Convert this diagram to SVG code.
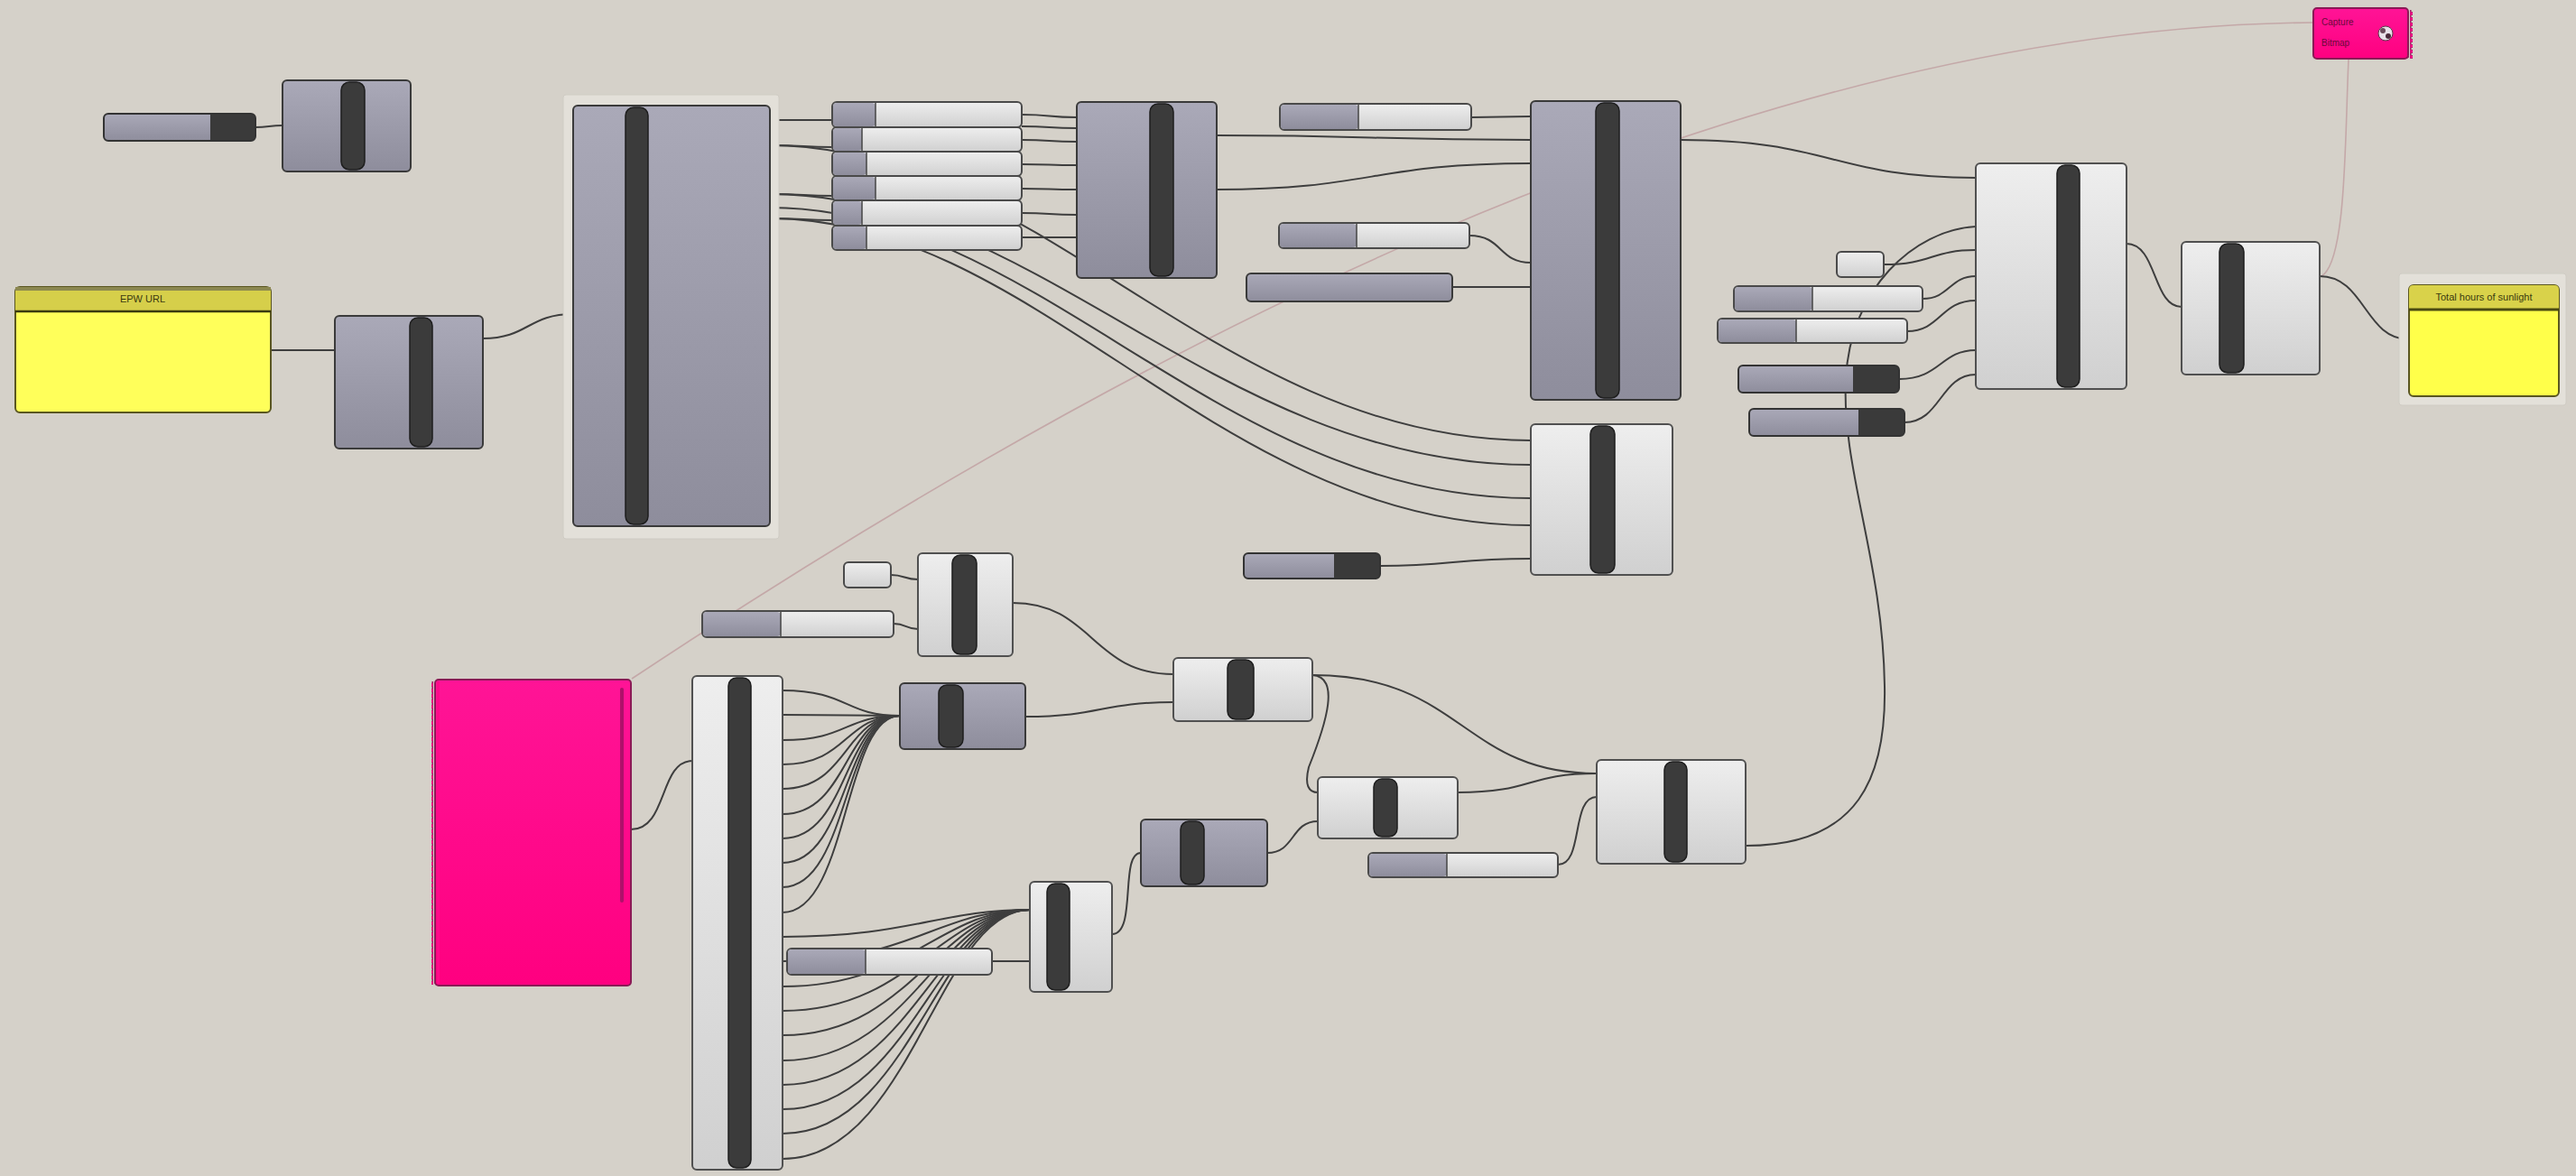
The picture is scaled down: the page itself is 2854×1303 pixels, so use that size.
<svg xmlns="http://www.w3.org/2000/svg" width="2854" height="1303" viewBox="0 0 2854 1303">
<defs>
<linearGradient id="gGray" x1="0" y1="0" x2="0" y2="1"><stop offset="0" stop-color="#aaa9b8"/><stop offset="1" stop-color="#8e8d9c"/></linearGradient>
<linearGradient id="gLight" x1="0" y1="0" x2="0" y2="1"><stop offset="0" stop-color="#eeeeee"/><stop offset="1" stop-color="#d0d0d0"/></linearGradient>
<linearGradient id="gPink" x1="0" y1="0" x2="0" y2="1"><stop offset="0" stop-color="#ff1496"/><stop offset="1" stop-color="#ff0080"/></linearGradient>
<pattern id="zigL" x="0" y="0" width="6" height="6" patternUnits="userSpaceOnUse"><path d="M6,0 L1,3 L6,6 Z" fill="#ff0a8a" stroke="#8a1a55" stroke-width="0.8"/></pattern>
<pattern id="zigR" x="0" y="0" width="6" height="6" patternUnits="userSpaceOnUse"><path d="M0,0 L5,3 L0,6 Z" fill="#ff0a8a" stroke="#8a1a55" stroke-width="0.8"/></pattern>
</defs>
<style>
.wire{fill:none;stroke:#3e3e3e;stroke-width:2}
.pwire{fill:none;stroke:#c4a8a8;stroke-width:1.6}
.gn{fill:url(#gGray);stroke:#3a3a3a;stroke-width:2}
.ln{fill:url(#gLight);stroke:#505050;stroke-width:2}
.bar{fill:#3b3b3b;stroke:#1e1e1e;stroke-width:1.5}
.sl{fill:url(#gLight);stroke:#4a4a4a;stroke-width:2}
.sg{fill:url(#gGray)}
.sd{fill:#3a3a3a}
.frame{fill:#e3e0d9;stroke:#cfccc4;stroke-width:1}
.ptxt{font-family:"Liberation Sans",Arial,sans-serif;font-size:11px;fill:#3a3a10;text-anchor:middle}
.pk{font-family:"Liberation Sans",Arial,sans-serif;font-size:10px;fill:#6a0a3a}
</style>
<rect x="0" y="0" width="2854" height="1303" fill="#d5d1c9"/>

<g id="connectors">
<path class="pwire" d="M700,752 C1200,420 1900,30 2563,25"/>
<path class="pwire" d="M2572,306 C2600,290 2598,150 2602,66"/>
<path class="wire" d="M283,141 C298,141 298,139 313,139"/>
<path class="wire" d="M300,388 L371,388"/>
<path class="wire" d="M535,375 C585,375 585,348 635,348"/>
<path class="wire" d="M853,133 C890,133 890,133 922,133"/>
<path class="wire" d="M853,161 C890,161 890,163 922,163"/>
<path class="wire" d="M853,215 C890,215 890,217 922,217"/>
<path class="wire" d="M853,242 C890,242 890,244 922,244"/>
<path class="wire" d="M853,161 C1150,161 1350,488 1696,488"/>
<path class="wire" d="M853,215 C1150,215 1350,515 1696,515"/>
<path class="wire" d="M853,230 C1150,230 1350,552 1696,552"/>
<path class="wire" d="M853,242 C1150,242 1350,582 1696,582"/>
<path class="wire" d="M1132,127 C1165,127 1160,130 1193,130"/>
<path class="wire" d="M1132,140 C1165,140 1160,142 1193,142"/>
<path class="wire" d="M1132,155 C1165,155 1160,157 1193,157"/>
<path class="wire" d="M1132,182 C1165,182 1160,183 1193,183"/>
<path class="wire" d="M1132,209 C1165,209 1160,210 1193,210"/>
<path class="wire" d="M1132,236 C1165,236 1160,238 1193,238"/>
<path class="wire" d="M1132,263 L1193,263"/>
<path class="wire" d="M1348,150 C1520,150 1520,155 1696,155"/>
<path class="wire" d="M1348,210 C1520,210 1520,181 1696,181"/>
<path class="wire" d="M1630,130 C1665,130 1660,129 1696,129"/>
<path class="wire" d="M1628,261 C1665,261 1660,291 1696,291"/>
<path class="wire" d="M1609,318 L1696,318"/>
<path class="wire" d="M1529,627 C1610,627 1610,619 1696,619"/>
<path class="wire" d="M1862,155 C2030,155 2030,197 2189,197"/>
<path class="wire" d="M2087,293 C2140,293 2140,277 2189,277"/>
<path class="wire" d="M2130,331 C2160,331 2160,306 2189,306"/>
<path class="wire" d="M2113,367 C2150,367 2150,333 2189,333"/>
<path class="wire" d="M2104,420 C2150,420 2150,388 2189,388"/>
<path class="wire" d="M2110,468 C2150,468 2150,415 2189,415"/>
<path class="wire" d="M1935,937 C2060,937 2090,860 2088,760 C2086,620 2040,520 2045,420 C2050,320 2120,255 2189,251"/>
<path class="wire" d="M2356,270 C2390,270 2385,340 2417,340"/>
<path class="wire" d="M2570,306 C2620,306 2620,376 2669,376"/>
<path class="wire" d="M699,919 C740,919 730,843 767,843"/>
<path class="wire" d="M867,765 C940,765 935,793 997,793"/>
<path class="wire" d="M867,792 C940,792 935,793 997,793"/>
<path class="wire" d="M867,820 C940,820 935,793 997,793"/>
<path class="wire" d="M867,847 C940,847 935,793 997,793"/>
<path class="wire" d="M867,874 C940,874 935,793 997,793"/>
<path class="wire" d="M867,902 C940,902 935,793 997,793"/>
<path class="wire" d="M867,929 C940,929 935,793 997,793"/>
<path class="wire" d="M867,956 C940,956 935,793 997,793"/>
<path class="wire" d="M867,983 C940,983 935,793 997,793"/>
<path class="wire" d="M867,1011 C940,1011 935,793 997,793"/>
<path class="wire" d="M867,1038 C1010,1038 1040,1008 1141,1008"/>
<path class="wire" d="M867,1065 C1010,1065 1040,1008 1141,1008"/>
<path class="wire" d="M867,1093 C1010,1093 1040,1008 1141,1008"/>
<path class="wire" d="M867,1120 C1010,1120 1040,1008 1141,1008"/>
<path class="wire" d="M867,1147 C1010,1147 1040,1008 1141,1008"/>
<path class="wire" d="M867,1175 C1010,1175 1040,1008 1141,1008"/>
<path class="wire" d="M867,1202 C1010,1202 1040,1008 1141,1008"/>
<path class="wire" d="M867,1229 C1010,1229 1040,1008 1141,1008"/>
<path class="wire" d="M867,1256 C1010,1256 1040,1008 1141,1008"/>
<path class="wire" d="M867,1284 C1010,1284 1040,1008 1141,1008"/>
<path class="wire" d="M987,637 C1002,637 1002,642 1017,642"/>
<path class="wire" d="M990,691 C1004,691 1004,697 1017,697"/>
<path class="wire" d="M1122,668 C1210,668 1210,747 1300,747"/>
<path class="wire" d="M1136,794 C1220,794 1220,778 1300,778"/>
<path class="wire" d="M1454,748 C1620,748 1620,857 1769,857"/>
<path class="wire" d="M1454,748 C1485,750 1470,800 1450,850 C1445,870 1450,878 1460,878"/>
<path class="wire" d="M1615,878 C1700,878 1690,857 1769,857"/>
<path class="wire" d="M1404,945 C1435,945 1430,910 1460,910"/>
<path class="wire" d="M1726,958 C1755,958 1740,883 1769,883"/>
<path class="wire" d="M1232,1035 C1260,1035 1240,945 1264,945"/>
<path class="wire" d="M1099,1065 L1141,1065"/>
</g>

<g id="panel-epw">
<rect x="17" y="318" width="283" height="139" rx="5" fill="#ffff5a" stroke="#5a5620" stroke-width="2"/>
<path d="M17,345 L17,323 Q17,318 22,318 L295,318 Q300,318 300,323 L300,345 Z" fill="#d6cf4a"/>
<rect x="17" y="318" width="283" height="4" fill="#8c8850"/>
<line x1="17" y1="345" x2="300" y2="345" stroke="#3a3a10" stroke-width="2.5"/>
<text class="ptxt" x="158" y="335">EPW URL</text>
</g>

<g id="slider-tl">
<rect class="sd" x="115" y="126" width="168" height="30" rx="5"/>
<path class="sg" d="M120,126 L233,126 L233,156 L120,156 Q115,156 115,151 L115,131 Q115,126 120,126 Z"/>
<rect x="115" y="126" width="168" height="30" rx="5" fill="none" stroke="#333" stroke-width="2"/>
</g>
<g id="node-tl"><rect class="gn" x="313" y="89" width="142" height="101" rx="5"/><rect class="bar" x="378" y="91" width="26" height="97" rx="9"/></g>
<g id="node-epw"><rect class="gn" x="371" y="350" width="164" height="147" rx="5"/><rect class="bar" x="454" y="352" width="25" height="143" rx="9"/></g>
<g id="node-big"><rect class="frame" x="624" y="105" width="239" height="492" rx="3"/><rect class="gn" x="635" y="117" width="218" height="466" rx="5"/><rect class="bar" x="693" y="119" width="25" height="462" rx="9"/></g>

<g id="slider-stack">
<rect class="sl" x="922" y="113" width="210" height="28" rx="5"/><rect class="sg" x="923" y="114" width="47" height="26" rx="4"/><line x1="970" y1="114" x2="970" y2="140" stroke="#444" stroke-width="1.5"/>
<rect class="sl" x="922" y="141" width="210" height="27" rx="5"/><rect class="sg" x="923" y="142" width="32" height="25" rx="4"/><line x1="955" y1="142" x2="955" y2="167" stroke="#444" stroke-width="1.5"/>
<rect class="sl" x="922" y="168" width="210" height="27" rx="5"/><rect class="sg" x="923" y="169" width="37" height="25" rx="4"/><line x1="960" y1="169" x2="960" y2="194" stroke="#444" stroke-width="1.5"/>
<rect class="sl" x="922" y="195" width="210" height="27" rx="5"/><rect class="sg" x="923" y="196" width="47" height="25" rx="4"/><line x1="970" y1="196" x2="970" y2="221" stroke="#444" stroke-width="1.5"/>
<rect class="sl" x="922" y="222" width="210" height="28" rx="5"/><rect class="sg" x="923" y="223" width="32" height="26" rx="4"/><line x1="955" y1="223" x2="955" y2="249" stroke="#444" stroke-width="1.5"/>
<rect class="sl" x="922" y="250" width="210" height="27" rx="5"/><rect class="sg" x="923" y="251" width="37" height="25" rx="4"/><line x1="960" y1="251" x2="960" y2="276" stroke="#444" stroke-width="1.5"/>
</g>

<g id="node-mid1"><rect class="gn" x="1193" y="113" width="155" height="195" rx="5"/><rect class="bar" x="1274" y="115" width="26" height="191" rx="9"/></g>

<g id="slider-a"><rect class="sl" x="1418" y="115" width="212" height="29" rx="5"/><rect class="sg" x="1419" y="116" width="86" height="27" rx="4"/><line x1="1505" y1="116" x2="1505" y2="143" stroke="#444" stroke-width="1.5"/></g>
<g id="slider-b"><rect class="sl" x="1417" y="247" width="211" height="28" rx="5"/><rect class="sg" x="1418" y="248" width="85" height="26" rx="4"/><line x1="1503" y1="248" x2="1503" y2="274" stroke="#444" stroke-width="1.5"/></g>
<g id="param-c"><rect class="gn" x="1381" y="303" width="228" height="31" rx="5"/></g>

<g id="node-mid2"><rect class="gn" x="1696" y="112" width="166" height="331" rx="5"/><rect class="bar" x="1768" y="114" width="26" height="327" rx="9"/></g>
<g id="node-mid3"><rect class="ln" x="1696" y="470" width="157" height="167" rx="5"/><rect class="bar" x="1762" y="472" width="27" height="163" rx="9"/></g>

<g id="slider-d">
<rect class="sd" x="1378" y="613" width="151" height="28" rx="5"/>
<path class="sg" d="M1383,613 L1478,613 L1478,641 L1383,641 Q1378,641 1378,636 L1378,618 Q1378,613 1383,613 Z"/>
<rect x="1378" y="613" width="151" height="28" rx="5" fill="none" stroke="#333" stroke-width="2"/>
</g>

<g id="box-r"><rect class="sl" x="2035" y="279" width="52" height="28" rx="5"/></g>
<g id="slider-r1"><rect class="sl" x="1921" y="317" width="209" height="28" rx="5"/><rect class="sg" x="1922" y="318" width="86" height="26" rx="4"/><line x1="2008" y1="318" x2="2008" y2="344" stroke="#444" stroke-width="1.5"/></g>
<g id="slider-r2"><rect class="sl" x="1903" y="353" width="210" height="27" rx="5"/><rect class="sg" x="1904" y="354" width="86" height="25" rx="4"/><line x1="1990" y1="354" x2="1990" y2="379" stroke="#444" stroke-width="1.5"/></g>
<g id="slider-r3">
<rect class="sd" x="1926" y="405" width="178" height="30" rx="5"/>
<path class="sg" d="M1931,405 L2053,405 L2053,435 L1931,435 Q1926,435 1926,430 L1926,410 Q1926,405 1931,405 Z"/>
<rect x="1926" y="405" width="178" height="30" rx="5" fill="none" stroke="#333" stroke-width="2"/>
</g>
<g id="slider-r4">
<rect class="sd" x="1938" y="453" width="172" height="30" rx="5"/>
<path class="sg" d="M1943,453 L2059,453 L2059,483 L1943,483 Q1938,483 1938,478 L1938,458 Q1938,453 1943,453 Z"/>
<rect x="1938" y="453" width="172" height="30" rx="5" fill="none" stroke="#333" stroke-width="2"/>
</g>

<g id="node-r1"><rect class="ln" x="2189" y="181" width="167" height="250" rx="5"/><rect class="bar" x="2279" y="183" width="25" height="246" rx="9"/></g>
<g id="node-r2"><rect class="ln" x="2417" y="268" width="153" height="147" rx="5"/><rect class="bar" x="2459" y="270" width="27" height="143" rx="9"/></g>

<g id="panel-sun">
<rect class="frame" x="2658" y="303" width="185" height="146" rx="3"/>
<rect x="2669" y="316" width="166" height="123" rx="5" fill="#ffff4a" stroke="#5a5620" stroke-width="2"/>
<path d="M2669,343 L2669,321 Q2669,316 2674,316 L2830,316 Q2835,316 2835,321 L2835,343 Z" fill="#d9d24a"/>
<line x1="2669" y1="343" x2="2835" y2="343" stroke="#4a4a10" stroke-width="3"/>
<text class="ptxt" x="2752" y="333" font-size="10">Total hours of sunlight</text>
</g>

<g id="pink-top">
<rect x="2666" y="11" width="7" height="54" fill="url(#zigR)"/>
<rect x="2563" y="9" width="105" height="56" rx="4" fill="url(#gPink)" stroke="#8a1a55" stroke-width="2"/>
<text class="pk" x="2572" y="28">Capture</text>
<text class="pk" x="2572" y="51">Bitmap</text>
<circle cx="2643" cy="37" r="8" fill="#e8e0e8" stroke="#5a3a4a" stroke-width="1"/>
<circle cx="2640" cy="34" r="3" fill="#6a4a5a"/><circle cx="2646" cy="40" r="3" fill="#4a2a3a"/>
</g>

<g id="pink-big">
<rect x="478" y="755" width="7" height="336" fill="url(#zigL)"/>
<rect x="482" y="753" width="217" height="339" rx="4" fill="url(#gPink)" stroke="#8a1a55" stroke-width="2"/>
<rect x="484" y="755" width="3" height="335" fill="#ff0a8a"/>
<line x1="689" y1="764" x2="689" y2="998" stroke="#b0106a" stroke-width="4" stroke-linecap="round"/>
</g>

<g id="box-b"><rect class="sl" x="935" y="623" width="52" height="28" rx="5"/></g>
<g id="slider-b1"><rect class="sl" x="778" y="677" width="212" height="29" rx="5"/><rect class="sg" x="779" y="678" width="86" height="27" rx="4"/><line x1="865" y1="678" x2="865" y2="705" stroke="#444" stroke-width="1.5"/></g>
<g id="node-b1"><rect class="ln" x="1017" y="613" width="105" height="114" rx="5"/><rect class="bar" x="1055" y="615" width="27" height="110" rx="9"/></g>
<g id="node-tall"><rect class="ln" x="767" y="749" width="100" height="547" rx="5"/><rect class="bar" x="807" y="751" width="25" height="543" rx="9"/></g>
<g id="node-b2"><rect class="gn" x="997" y="757" width="139" height="73" rx="5"/><rect class="bar" x="1040" y="759" width="27" height="69" rx="9"/></g>
<g id="node-b3"><rect class="ln" x="1300" y="729" width="154" height="70" rx="5"/><rect class="bar" x="1360" y="731" width="29" height="66" rx="9"/></g>
<g id="node-b4"><rect class="ln" x="1460" y="861" width="155" height="68" rx="5"/><rect class="bar" x="1522" y="863" width="26" height="64" rx="9"/></g>
<g id="node-b5"><rect class="ln" x="1769" y="842" width="165" height="115" rx="5"/><rect class="bar" x="1844" y="844" width="25" height="111" rx="9"/></g>
<g id="node-b6"><rect class="gn" x="1264" y="908" width="140" height="74" rx="5"/><rect class="bar" x="1308" y="910" width="26" height="70" rx="9"/></g>
<g id="node-b7"><rect class="ln" x="1141" y="977" width="91" height="122" rx="5"/><rect class="bar" x="1160" y="979" width="25" height="118" rx="9"/></g>
<g id="slider-b2"><rect class="sl" x="872" y="1051" width="227" height="29" rx="5"/><rect class="sg" x="873" y="1052" width="86" height="27" rx="4"/><line x1="959" y1="1052" x2="959" y2="1079" stroke="#444" stroke-width="1.5"/></g>
<g id="slider-b3"><rect class="sl" x="1516" y="945" width="210" height="27" rx="5"/><rect class="sg" x="1517" y="946" width="86" height="25" rx="4"/><line x1="1603" y1="946" x2="1603" y2="971" stroke="#444" stroke-width="1.5"/></g>
</svg>
